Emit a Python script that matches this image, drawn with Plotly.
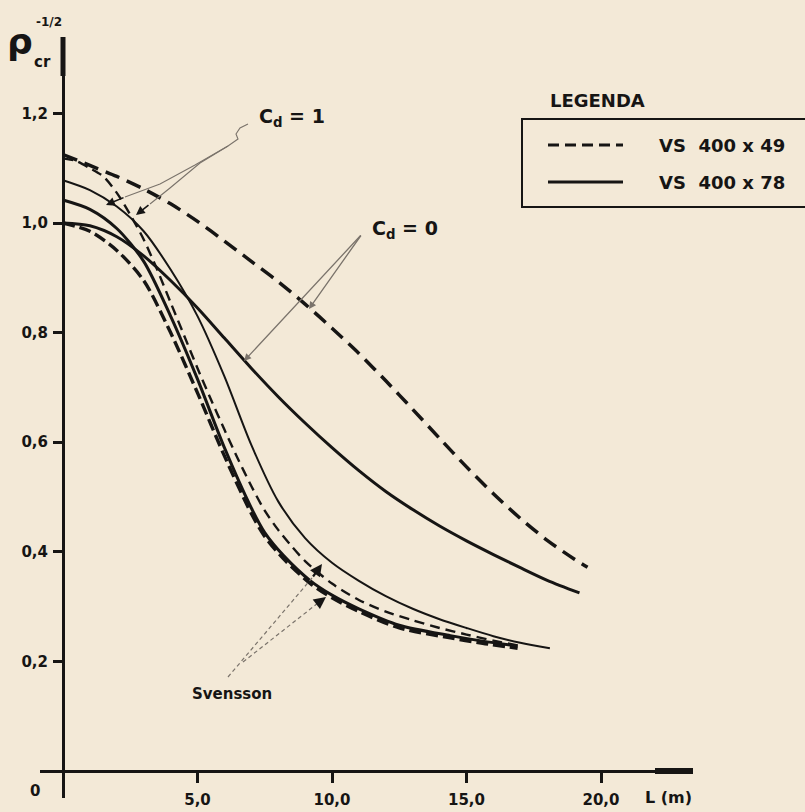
import plotly.graph_objects as go

# ---------------- data ----------------
# Cd = 0
L_cd0_49 = [0, 1, 2, 3, 4, 5, 6, 7, 8, 9, 10, 11, 12, 13, 14, 15, 16, 17, 18, 19, 19.5]
rho_cd0_49 = [1.125, 1.105, 1.085, 1.062, 1.035, 1.003, 0.967, 0.93, 0.893, 0.852, 0.808,
              0.762, 0.712, 0.66, 0.607, 0.555, 0.506, 0.461, 0.421, 0.387, 0.372]
L_cd0_78 = [0, 1, 2, 3, 4, 5, 6, 7, 8, 9, 10, 11, 12, 13, 14, 15, 16, 17, 18, 19.2]
rho_cd0_78 = [1.0, 0.995, 0.975, 0.94, 0.895, 0.845, 0.79, 0.735, 0.683, 0.635, 0.59,
              0.548, 0.51, 0.477, 0.447, 0.42, 0.395, 0.371, 0.348, 0.325]
# Cd = 1
L_cd1_49 = [0, 0.5, 1, 1.5, 2, 2.5, 3, 3.5, 4, 4.5, 5, 5.5, 6, 6.5, 7, 7.5, 8, 8.5, 9,
            10, 11, 12, 13, 14, 15, 16, 16.9]
rho_cd1_49 = [1.118, 1.113, 1.10, 1.085, 1.055, 1.015, 0.97, 0.915, 0.855, 0.795, 0.735,
              0.678, 0.623, 0.57, 0.52, 0.475, 0.44, 0.41, 0.383, 0.342, 0.312, 0.291,
              0.275, 0.261, 0.249, 0.238, 0.229]
L_cd1_78 = [0, 1, 2, 3, 4, 5, 6, 7, 8, 9, 10, 11, 12, 13, 14, 15, 16, 17, 18.1]
rho_cd1_78 = [1.078, 1.06, 1.03, 0.985, 0.915, 0.83, 0.72, 0.595, 0.492, 0.425, 0.38,
              0.347, 0.319, 0.296, 0.277, 0.261, 0.246, 0.234, 0.224]
# Svensson
L_sv = [0, 1, 2, 3, 4, 5, 6, 7, 7.5, 8.2, 9.2, 10, 11, 12.5, 14.4, 15.6, 16.9]
rho_sv_78 = [1.042, 1.025, 0.99, 0.93, 0.83, 0.715, 0.59, 0.48, 0.435, 0.393, 0.347,
             0.321, 0.296, 0.266, 0.247, 0.237, 0.228]
rho_sv_49 = [1.0, 0.985, 0.95, 0.895, 0.80, 0.69, 0.575, 0.47, 0.428, 0.387, 0.342,
             0.316, 0.291, 0.261, 0.243, 0.233, 0.224]

x_tickvals = [5, 10, 15, 20]
x_ticktext = ["5,0", "10,0", "15,0", "20,0"]
y_tickvals = [0.2, 0.4, 0.6, 0.8, 1.0, 1.2]
y_ticktext = ["0,2", "0,4", "0,6", "0,8", "1,0", "1,2"]

# ---------------- layout geometry ----------------
W, H = 805, 812
X0, XS = 63.0, 26.9     # pixel of L=0, pixels per metre
Y0, YS = 771.0, 548.0   # pixel of rho=0, pixels per unit
XL, XR = 40.0, 693.0    # x-axis extent (pixels)
YT, YB = 37.0, 798.0    # y-axis extent (pixels)

def P(x, y):
    return x / W, 1 - y / H

INK = "#161514"
GREY = "#7a736b"
BG = "#f3e9d7"
FONT = "DejaVu Sans"

fig = go.Figure()

def add(L, r, dash, width):
    fig.add_trace(go.Scatter(x=L, y=r, mode="lines", showlegend=False,
                             line=dict(color=INK, width=width, dash=dash,
                                       shape="spline", smoothing=0.8),
                             hoverinfo="skip"))

add(L_cd0_49, rho_cd0_49, "15px,8px", 3.5)
add(L_cd0_78, rho_cd0_78, "solid", 3.0)
add(L_cd1_49, rho_cd1_49, "10px,6px", 2.4)
add(L_cd1_78, rho_cd1_78, "solid", 2.0)
add(L_sv, rho_sv_78, "solid", 3.0)
add(L_sv, rho_sv_49, "12px,5px", 3.4)

shapes = []
annotations = []

def seg(pts, width=1.2, color=GREY, dash="solid"):
    d = "M " + " L ".join("%.5f,%.5f" % P(x, y) for x, y in pts)
    shapes.append(dict(type="path", xref="paper", yref="paper", path=d,
                       line=dict(color=color, width=width, dash=dash)))

def arrow(tail, tip, width=1.3, color=GREY, head=2):
    tx, ty = P(*tip)
    annotations.append(dict(x=tx, y=ty, xref="paper", yref="paper", text="",
                            showarrow=True, arrowhead=head, arrowsize=1.1,
                            arrowwidth=width, arrowcolor=color,
                            ax=tail[0] - tip[0], ay=tail[1] - tip[1]))

def text(t, x, y, size, bold=True, xanchor="center"):
    tx, ty = P(x, y)
    annotations.append(dict(x=tx, y=ty, xref="paper", yref="paper", text=t,
                            showarrow=False, xanchor=xanchor, yanchor="middle",
                            font=dict(family=FONT, size=size, color=INK,
                                      weight=700 if bold else 400)))

# axis arrow ends (thickened)
seg([(655, Y0), (693, Y0)], width=6, color=INK)
seg([(X0, 37), (X0, 76)], width=5, color=INK)

# leaders: Cd = 1
seg([(248, 124), (240, 128), (236, 134), (238, 139), (228, 146), (195, 165),
     (160, 184), (125, 197)], width=1.1)
seg([(228, 146), (200, 163), (170, 188), (150, 204)], width=1.1)
arrow((125, 197), (106, 205), width=1.6, color=INK)
arrow((150, 204), (136, 215), width=1.6, color=INK)
text("C<sub>d</sub> = 1", 292, 118, 19)

# leaders: Cd = 0
arrow((362, 234), (309, 309), width=1.3)
arrow((362, 234), (244, 361), width=1.3)
text("C<sub>d</sub> = 0", 405, 229, 19)

# leaders: Svensson
seg([(228, 677), (312, 578)], width=1.2, dash="4px,3px")
seg([(243, 662), (318, 603)], width=1.2, dash="4px,3px")
arrow((312, 578), (322, 564), width=2.2, color=INK)
arrow((318, 603), (326, 597), width=2.2, color=INK)
text("Svensson", 232, 694, 15)

# axis labels
text("ρ", 20, 42, 36, bold=True)
text("cr", 42, 62, 15)
text("-1/2", 49, 22, 12)
text("0", 35, 791, 15)
text("L (m)", 668, 797, 16)

# legend (drawn by hand like the original)
seg([(805, 119), (522, 119), (522, 207), (805, 207)], width=2, color=INK)
seg([(548, 145), (623, 145)], width=3, color=INK, dash="11px,6px")
seg([(548, 182), (623, 182)], width=3, color=INK)
text("LEGENDA", 597, 101, 18)
text("VS  400 x 49", 722, 145, 18)
text("VS  400 x 78", 722, 182, 18)

fig.update_layout(
    width=W, height=H, autosize=False,
    margin=dict(l=0, r=0, t=0, b=0),
    paper_bgcolor=BG, plot_bgcolor=BG,
    showlegend=False,
    shapes=shapes, annotations=annotations,
    xaxis=dict(domain=[XL / W, XR / W],
               range=[(XL - X0) / XS, (XR - X0) / XS],
               anchor="free", position=(H - Y0) / H,
               showline=True, linecolor=INK, linewidth=3,
               showgrid=False, zeroline=False,
               ticks="outside", ticklen=10, tickwidth=2.5, tickcolor=INK,
               tickvals=x_tickvals, ticktext=x_ticktext, ticklabelstandoff=4,
               tickfont=dict(family=FONT, size=15, color=INK, weight=700),
               fixedrange=True),
    yaxis=dict(domain=[(H - YB) / H, (H - YT) / H],
               range=[(Y0 - YB) / YS, (Y0 - YT) / YS],
               anchor="free", position=X0 / W,
               showline=True, linecolor=INK, linewidth=3,
               showgrid=False, zeroline=False,
               ticks="outside", ticklen=9, tickwidth=2.5, tickcolor=INK,
               tickvals=y_tickvals, ticktext=y_ticktext, ticklabelstandoff=2,
               tickfont=dict(family=FONT, size=15, color=INK, weight=700),
               fixedrange=True),
)

fig.write_html("out.html", config={"displayModeBar": False},
               post_script="document.body.style.margin='0px';"
                           "document.body.style.overflow='hidden';")
